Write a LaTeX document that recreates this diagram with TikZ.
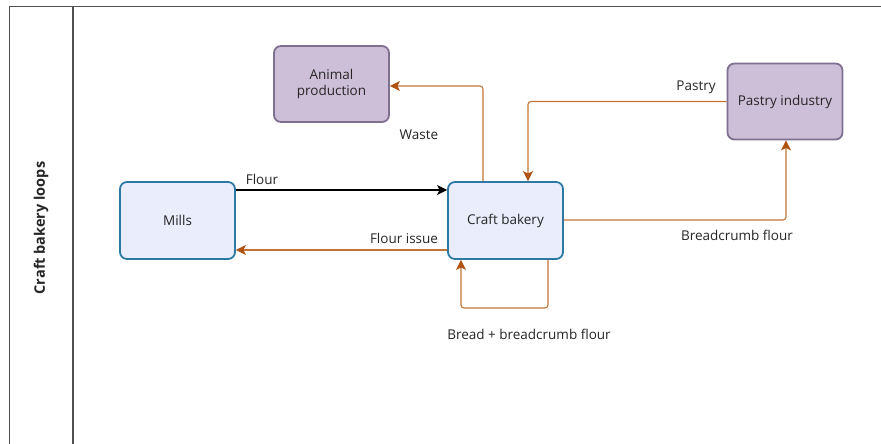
\documentclass[tikz,border=0pt]{standalone}
\usepackage{fontspec}
\setmainfont{Open Sans}
\usetikzlibrary{arrows.meta}
\definecolor{bluefill}{HTML}{E9EDFC}
\definecolor{blueline}{HTML}{2E78A6}
\definecolor{purplefill}{HTML}{CDBFD8}
\definecolor{purpleline}{HTML}{7E7090}
\definecolor{flow}{HTML}{C27436}
\definecolor{flowhead}{HTML}{B0520F}
\definecolor{frameline}{HTML}{505050}
\tikzset{
  x=1pt, y=-1pt,
  every node/.style={font=\fontsize{13.5}{16.5}\selectfont, text=black!85},
  bluebox/.style={draw=blueline, fill=bluefill, line width=1.8pt, rounded corners=7pt, minimum width=115pt, minimum height=77pt, inner sep=0pt},
  purplebox/.style={draw=purpleline, fill=purplefill, line width=1.8pt, rounded corners=7pt, minimum width=115pt, minimum height=76pt, inner sep=0pt, align=center},
  flowarrow/.style={draw=flow, line width=1.1pt, rounded corners=3pt, -{Stealth[length=10pt,width=10pt,inset=2.5pt,color=flowhead]}},
  blackarrow/.style={draw=black, line width=1.1pt, -{Stealth[length=10pt,width=10pt,inset=2.5pt]}},
  lbl/.style={inner sep=0pt}
}
\begin{document}
\begin{tikzpicture}
\useasboundingbox (0,0) rectangle (881,444);
% frame
\draw[frameline, line width=1.2pt] (9.5,444) -- (9.5,6.5) -- (881,6.5);
\draw[frameline, line width=1.2pt] (73,6.5) -- (73,444);
\node[rotate=90, font=\fontsize{14.5}{17}\selectfont\bfseries] (lane) at (41,228) {Craft bakery loops};
% boxes
\node[bluebox] (mills) at (177.5,220.5) {Mills};
\node[bluebox] (bakery) at (505.5,220.5) {Craft bakery};
\node[purplebox] (animal) at (331.5,84) {Animal\\production};
\node[purplebox] (pastry) at (785,101.5) {Pastry industry};
% coordinates
\coordinate (wasteTurn) at (483,86);
\coordinate (pastryTurn) at (528,101.5);
\coordinate (crumbTurn) at (786,220);
\coordinate (loopA) at (548,308);
\coordinate (loopB) at (461,308);
% connectors
\draw[blackarrow] (mills.east |- 0,190) -- (bakery.west |- 0,190);
\draw[flowarrow] (bakery.west |- 0,250) -- (mills.east |- 0,250);
\draw[flowarrow] (bakery.north -| wasteTurn) |- (animal.east |- wasteTurn);
\draw[flowarrow] (pastry.west) -- (pastryTurn) -- (bakery.north -| pastryTurn);
\draw[flowarrow] (bakery.east |- crumbTurn) -- (crumbTurn) -- (pastry.south -| crumbTurn);
\draw[flowarrow] (bakery.south -| loopA) -- (loopA) -- (loopB) -- (bakery.south -| loopB);
% labels
\node[lbl] (lflour) at (262,179) {Flour};
\node[lbl] (lissue) at (404,238) {Flour issue};
\node[lbl] (lwaste) at (419,135) {Waste};
\node[lbl] (lpastry) at (696,87.5) {Pastry};
\node[lbl] (lcrumb) at (737,235) {Breadcrumb flour};
\node[lbl] (lbread) at (529,334) {Bread + breadcrumb flour};
\end{tikzpicture}
\end{document}
